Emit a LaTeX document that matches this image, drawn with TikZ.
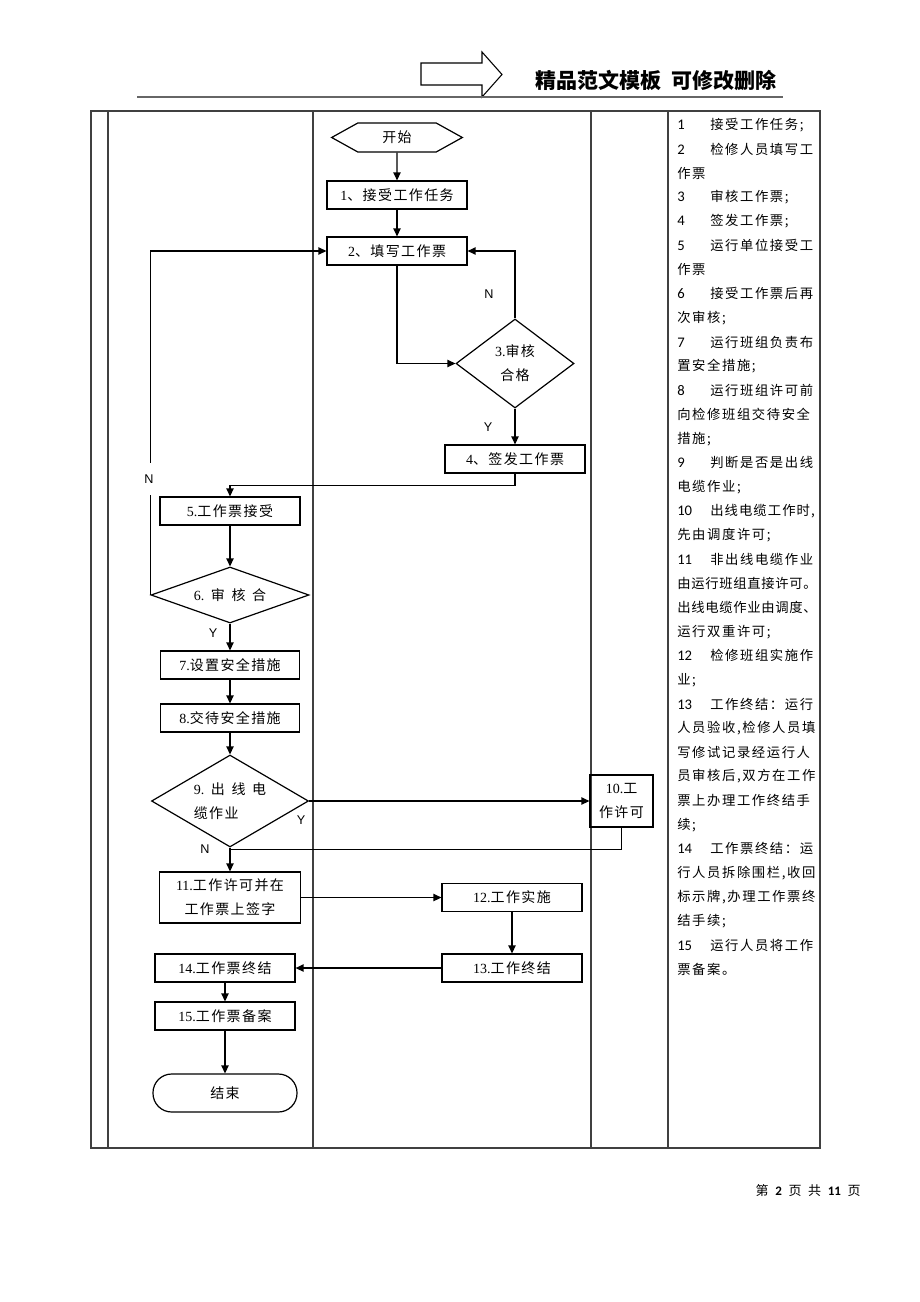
\documentclass[tikz,border=0pt]{standalone}
\usepackage{fontspec}
\setmainfont{Noto Sans CJK SC}[LetterSpace=10]
\newfontfamily\titlefont{Noto Sans CJK SC}
\newfontfamily\notefont{Noto Sans CJK SC}[LetterSpace=12]
\newfontfamily\latin{Liberation Serif}
\newfontfamily\sans{Liberation Sans}
\newfontfamily\numfont{Carlito}
\usetikzlibrary{
    arrows.meta,
    positioning,
    shapes.geometric,
    shapes.symbols,
    calc
}
\newcommand{\flowfont}{\fontsize{10.5pt}{18pt}\selectfont}
\newcommand{\nb}[1]{\makebox[24.75pt][l]{\numfont\fontsize{11pt}{12pt}\selectfont #1}}
\newcommand{\tight}{\addfontfeature{LetterSpace=5}}

\begin{document}
\begin{tikzpicture}[
    x=0.75pt, y=-0.75pt,
    box/.style={
        rectangle, draw, line width=0.9pt,
        minimum width=105pt, minimum height=21pt, inner sep=1pt,
        align=center, font=\flowfont
    },
    dec/.style={diamond, draw, line width=0.9pt, inner sep=0pt, align=center, font=\flowfont},
    arrow/.style={-{Triangle[length=6pt, width=5.5pt]}, line width=1.1pt},
    link/.style={line width=1.1pt},
    lbl/.style={font=\sans\fontsize{9.5pt}{11pt}\selectfont, inner sep=1pt},
    grid/.style={draw=black!75, line width=0.8pt},
    note/.style={anchor=west, inner sep=0pt, font=\notefont\fontsize{10pt}{12pt}\selectfont}
]
\useasboundingbox (0,0) rectangle (920,1302);

% Header
\draw[line width=0.8pt] (421,63) -- (482,63) -- (482,52) -- (502,74.5) -- (482,97) -- (482,85) -- (421,85) -- cycle;
\draw[black!60, line width=1.5pt] (137,97) -- (783,97);
\node[anchor=east, font=\titlefont\bfseries\fontsize{15.75pt}{18pt}\selectfont] (title) at (781,80) {精品范文模板\hspace{7pt}可修改删除};

% Table frame
\draw[grid] (91,111) rectangle (820,1148);
\foreach \x in {108,313,591,668}
    \draw[grid] (\x,111) -- (\x,1148);

% Flow nodes
\node[signal, signal to=west and east, signal pointer angle=58, draw, line width=0.9pt,
      minimum width=98pt, minimum height=21.75pt, inner sep=0pt, font=\flowfont] (start) at (397,137.5) {开始};
\node[box] (s1) at (397,195) {{\latin 1}、接受工作任务};
\node[box] (s2) at (397,251) {{\latin 2}、填写工作票};
\node[dec, minimum width=88.5pt, minimum height=66.75pt] (s3) at (515,363.5) {{\latin 3.}审核\\合格};
\node[box] (s4) at (515,459) {{\latin 4}、签发工作票};
\node[box] (s5) at (230,511) {{\latin 5.}工作票接受};
\node[dec, shape aspect=2.8, minimum width=118.5pt, minimum height=42pt] (s6) at (230,595)
    {{\latin 6.}\hspace{5pt}审\hspace{5pt}核\hspace{5pt}合};
\node[box, minimum width=104pt] (s7) at (230,665) {{\latin 7.}设置安全措施};
\node[box, minimum width=104pt] (s8) at (230,718) {{\latin 8.}交待安全措施};
\node[dec, shape aspect=1.7, minimum width=117.75pt, minimum height=69pt, align=left] (s9) at (230,801)
    {{\latin 9.}\hspace{5pt}出\hspace{5pt}线\hspace{5pt}电\\缆作业};
\node[box, minimum width=47.25pt, minimum height=39pt] (s10) at (621.5,801) {{\latin 10.}工\\作许可};
\node[box, minimum width=105.75pt, minimum height=38.25pt] (s11) at (230,897.5) {{\latin 11.}工作许可并在\\工作票上签字};
\node[box] (s12) at (512,897.5) {{\latin 12.}工作实施};
\node[box] (s13) at (512,968) {{\latin 13.}工作终结};
\node[box] (s14) at (225,968) {{\latin 14.}工作票终结};
\node[box] (s15) at (225,1016) {{\latin 15.}工作票备案};
\node[box, rounded corners=14pt, minimum width=108pt, minimum height=28.5pt] (stop) at (225,1093) {结束};
\coordinate (j9) at ($(s9.south)+(0,2)$);

% Connectors
\draw[arrow] (start) -- (s1);
\draw[arrow] (s1) -- (s2);
\draw[arrow] (s2.south) |- (s3.west);
\draw[arrow] (s3.north) |- (s2.east);
\draw[arrow] (s3) -- (s4);
\draw[arrow] (s4.south) -- ++(0,12) -| (s5.north);
\draw[arrow] (s5) -- (s6);
\draw[arrow] (s6.west) |- (s2.west);
\draw[arrow] (s6) -- (s7);
\draw[arrow] (s7) -- (s8);
\draw[arrow] (s8) -- (s9);
\draw[arrow] (s9.east) -- (s10.west);
\draw[link] (s10.south) |- (j9);
\draw[arrow] (s9.south) -- (s11.north);
\draw[arrow] (s11.east) -- (s12.west);
\draw[arrow] (s12) -- (s13);
\draw[arrow] (s13) -- (s14);
\draw[arrow] (s14) -- (s15);
\draw[arrow] (s15) -- (stop);

% Y / N labels
\node[lbl] (n3) at (489,294) {N};
\node[lbl] (y3) at (488,427) {Y};
\node[lbl, fill=white, minimum height=24pt] (n6) at (149,479) {N};
\node[lbl] (y6) at (213,633) {Y};
\node[lbl] (y9) at (301,820) {Y};
\node[lbl] (n9) at (205,849) {N};

% Notes column
\foreach \txt [count=\i] in {
    \nb{1}接受工作任务;, \nb{2}检修人员填写工, 作票, \nb{3}审核工作票;, \nb{4}签发工作票;,
    \nb{5}运行单位接受工, 作票, \nb{6}接受工作票后再, 次审核;, \nb{7}运行班组负责布,
    置安全措施;, \nb{8}运行班组许可前, 向检修班组交待安全, 措施;, \nb{9}判断是否是出线,
    电缆作业;, {\nb{10}\addfontfeature{LetterSpace=8}出线电缆工作时,}, 先由调度许可;, \nb{11}非出线电缆作业, {\tight 由运行班组直接许可。},
    {\tight 出线电缆作业由调度、}, 运行双重许可;, \nb{12}检修班组实施作, 业;, \nb{13}工作终结：运行,
    {人员验收,检修人员填}, 写修试记录经运行人, {员审核后,双方在工作}, 票上办理工作终结手, 续;,
    \nb{14}工作票终结：运, {行人员拆除围栏,收回}, {标示牌,办理工作票终}, 结手续;, \nb{15}运行人员将工作,
    票备案。}
    \node[note] (c\i) at (677,{125+(\i-1)*24.13}) {\txt};

% Footer
\node[anchor=east, inner sep=0pt, font=\fontsize{9.75pt}{11pt}\selectfont] (pageno) at (861,1191)
    {第\hspace{5pt}{\numfont\bfseries 2}\hspace{5pt}页\hspace{5pt}共\hspace{5pt}{\numfont\bfseries 11}\hspace{5pt}页};
\end{tikzpicture}
\end{document}
